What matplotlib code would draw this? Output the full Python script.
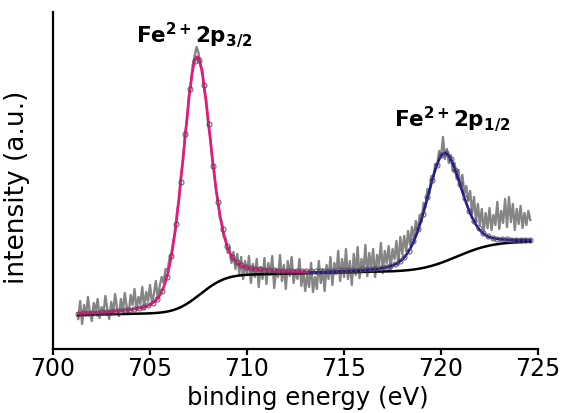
import math
import numpy as np
import matplotlib
matplotlib.use("Agg")
import matplotlib.pyplot as plt

# Fe 2p spectrum: measured counts on a 0.1 eV grid starting at E_START
E_START = 701.3
E_STEP = 0.1
counts = [
    30, 48, 25, 44, 33, 52, 36, 28, 46, 38,
    50, 31, 42, 35, 53, 40, 30, 47, 36, 55,
    41, 33, 50, 38, 56, 42, 35, 54, 44, 60,
    39, 52, 45, 62, 40, 57, 48, 64, 46, 55,
    68, 50, 63, 72, 66, 80, 78, 90, 95, 108,
    117, 138, 150, 175, 188, 214, 229, 253, 263, 284,
    293, 302, 296, 283, 279, 258, 249, 225, 213, 190,
    179, 158, 149, 131, 127, 112, 111, 96, 102, 86,
    97, 80, 95, 75, 92, 70, 88, 74, 93, 66,
    85, 72, 90, 62, 82, 70, 91, 65, 86, 74,
    93, 61, 80, 72, 94, 68, 84, 60, 88, 73,
    92, 66, 79, 70, 90, 63, 78, 58, 75, 62,
    86, 57, 72, 60, 88, 66, 80, 58, 84, 70,
    92, 64, 86, 75, 98, 68, 90, 72, 100, 70,
    88, 64, 95, 74, 102, 71, 90, 77, 104, 73,
    96, 80, 100, 72, 94, 84, 106, 76, 98, 86,
    103, 80, 100, 90, 108, 84, 112, 95, 113, 98,
    118, 104, 122, 110, 128, 117, 134, 127, 146, 142,
    160, 155, 173, 170, 185, 183, 198, 192, 212, 190,
    200, 186, 194, 178, 186, 170, 179, 162, 174, 155,
    163, 148, 158, 135, 152, 128, 145, 124, 140, 118,
    136, 121, 141, 119, 134, 124, 147, 120, 138, 126,
    150, 122, 152, 127, 145, 119, 140, 125, 143, 121,
    136, 124, 138, 129,
]

# Fit components: Shirley-type background and two pseudo-Voigt peaks
bg_offset = 34.0
bg_slope = 0.4
bg_steps = [(707.6, 1.0, 37.0), (720.8, 1.4, 27.0)]   # centre, width, height
peak_32 = (707.4, 1.7, 240.0)                          # centre, FWHM, amplitude
peak_12 = (720.15, 2.15, 108.5)
lorentz_fraction = 0.3
marker_step = 0.24

label_32 = r"$\mathbf{Fe}^{\mathbf{2+}}\mathbf{2p}_{\mathbf{3/2}}$"
label_12 = r"$\mathbf{Fe}^{\mathbf{2+}}\mathbf{2p}_{\mathbf{1/2}}$"
x_ticks = [700, 705, 710, 715, 720, 725]

energy = np.round(E_START + E_STEP * np.arange(len(counts)), 2)
counts = np.asarray(counts, dtype=float)

_erf = np.vectorize(math.erf)


def background(e):
    b = bg_offset + bg_slope * (e - energy[0])
    for c, w, h in bg_steps:
        b = b + h * 0.5 * (1 + _erf((e - c) / (w * math.sqrt(2))))
    return b


def pseudo_voigt(e, centre, fwhm, amp, eta=lorentz_fraction):
    sigma = fwhm / (2 * math.sqrt(2 * math.log(2)))
    gamma = fwhm / 2
    g = np.exp(-(e - centre) ** 2 / (2 * sigma ** 2))
    l = 1 / (1 + ((e - centre) / gamma) ** 2)
    return amp * ((1 - eta) * g + eta * l)


e_fine = np.linspace(energy[0], energy[-1], 1200)
bg = background(e_fine)
fit_32 = bg + pseudo_voigt(e_fine, *peak_32)
fit_12 = bg + pseudo_voigt(e_fine, *peak_12)

e_mark = np.arange(energy[0], energy[-1] + 1e-6, marker_step)
envelope = background(e_mark) + pseudo_voigt(e_mark, *peak_32) + pseudo_voigt(e_mark, *peak_12)

plt.rcParams["font.family"] = ["DejaVu Sans"]
plt.rcParams["mathtext.fontset"] = "dejavusans"

fig = plt.figure(figsize=(5.64, 4.13), dpi=100)
ax = fig.add_axes([0.094, 0.155, 0.860, 0.816])

ax.plot(energy, counts, color="#858585", lw=1.7, zorder=2)
ax.plot(e_fine, bg, color="black", lw=1.8, zorder=3)
left = e_fine <= 713.2
ax.plot(e_fine[left], fit_32[left], color="#e8177f", lw=1.9, zorder=4)
ax.plot(e_fine[~left], fit_12[~left], color="#1c1c96", lw=1.9, zorder=4)
ax.plot(e_mark, envelope, ls="none", marker="o", ms=3.6, mfc="none",
        mec="#5a4658", mew=0.8, alpha=0.85, zorder=5)

ax.text(704.3, 306, label_32, fontsize=15.5, ha="left", va="baseline")
ax.text(717.6, 222, label_12, fontsize=15.5, ha="left", va="baseline")

ax.set_xlim(700, 725)
ax.set_ylim(0, 337)
ax.set_xticks(x_ticks)
ax.set_yticks([])
for side in ("top", "right"):
    ax.spines[side].set_visible(False)
for side in ("left", "bottom"):
    ax.spines[side].set_linewidth(1.6)
ax.tick_params(axis="x", direction="out", length=4, width=1.6, labelsize=17, pad=2)
ax.set_xlabel("binding energy (eV)", fontsize=17.5, labelpad=0)
ax.xaxis.set_label_coords(0.526, -0.11)
ax.set_ylabel("intensity (a.u.)", fontsize=19, labelpad=6)
ax.yaxis.set_label_coords(-0.048, 0.48)

fig.savefig("out.png", dpi=100)
